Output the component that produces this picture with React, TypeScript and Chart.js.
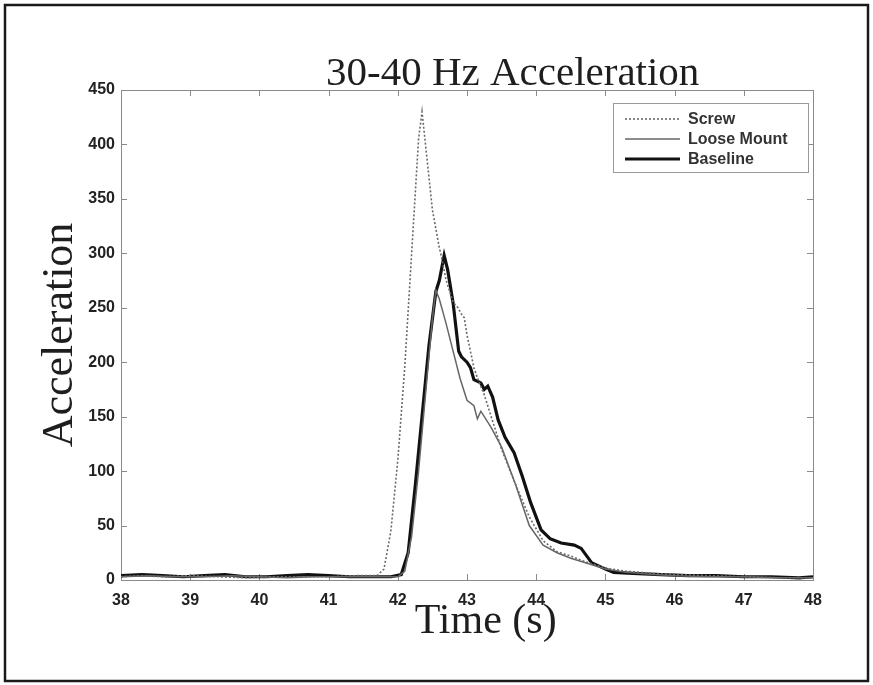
import React, { useEffect, useRef } from "react";
import { Chart, registerables } from "chart.js";

Chart.register(...registerables);

const chartTitle = "30-40 Hz Acceleration";
const xAxisTitle = "Time (s)";
const yAxisTitle = "Acceleration";
const seriesNames = ["Screw", "Loose Mount", "Baseline"];

const xMin = 38;
const xMax = 48;
const xStep = 1;
const yMin = 0;
const yMax = 450;
const yStep = 50;

const screwTime = [38, 38.3, 38.6, 39, 39.4, 39.8, 40.2, 40.6, 41, 41.4, 41.7, 41.8, 41.9, 42.0, 42.1, 42.2, 42.3, 42.35, 42.4, 42.5, 42.6, 42.62, 42.7, 42.8, 42.87, 42.93, 42.96, 43.0, 43.05, 43.1, 43.16, 43.25, 43.35, 43.5, 43.7, 43.9, 44.1, 44.3, 44.5, 44.7, 45, 45.3, 45.7, 46, 46.5, 47, 47.5, 48];
const screwAcc = [3, 4, 3, 4, 3, 2, 3, 3, 3, 4, 4, 10, 45, 110, 195, 300, 405, 430, 400, 340, 305, 300, 275, 255, 250, 243, 241, 225, 210, 195, 184, 170, 150, 120, 88, 58, 36, 26, 22, 17, 11, 8, 6, 5, 4, 3, 2, 2];

const looseTime = [38, 38.4, 38.8, 39.2, 39.6, 40, 40.4, 40.8, 41.2, 41.6, 42.0, 42.1, 42.2, 42.3, 42.4, 42.5, 42.55, 42.6, 42.7, 42.8, 42.9, 43.0, 43.1, 43.15, 43.2, 43.3, 43.35, 43.5, 43.7, 43.9, 44.1, 44.3, 44.5, 44.7, 45, 45.3, 45.7, 46, 46.5, 47, 47.5, 48];
const looseAcc = [3, 4, 3, 3, 4, 3, 2, 3, 3, 3, 3, 8, 40, 100, 170, 240, 266, 258, 235, 210, 185, 165, 160, 148, 155, 145, 140, 122, 88, 50, 32, 25, 20, 16, 10, 7, 5, 4, 3, 3, 2, 2];

const baseTime = [38, 38.3, 38.6, 38.9, 39.2, 39.5, 39.8, 40.1, 40.4, 40.7, 41, 41.3, 41.6, 41.9, 42.05, 42.15, 42.25, 42.35, 42.45, 42.55, 42.6, 42.67, 42.72, 42.8, 42.88, 42.92, 43.0, 43.05, 43.1, 43.2, 43.25, 43.3, 43.37, 43.45, 43.55, 43.68, 43.8, 43.92, 44.07, 44.2, 44.36, 44.55, 44.65, 44.8, 45, 45.12, 45.4, 45.8, 46.2, 46.6, 47, 47.4, 47.8, 48];
const baseAcc = [4, 5, 4, 3, 4, 5, 3, 3, 4, 5, 4, 3, 3, 3, 5, 25, 85, 150, 215, 265, 275, 298, 285, 254, 210, 205, 200, 195, 184, 181, 175, 178, 168, 147, 131, 117, 95, 71, 46, 38, 34, 32, 29, 16, 10, 7, 6, 5, 4, 4, 3, 3, 2, 3];

const toPoints = (t: number[], v: number[]) => t.map((x, i) => ({ x, y: v[i] }));

const decorPlugin = {
  id: "decor",
  beforeDraw(chart: any) {
    const ctx = chart.ctx;
    ctx.save();
    ctx.fillStyle = "#ffffff";
    ctx.fillRect(0, 0, chart.width, chart.height);
    ctx.restore();
  },
  beforeDatasetsDraw(chart: any) {
    const ctx = chart.ctx;
    const a = chart.chartArea;
    const xs = chart.scales.x;
    const ys = chart.scales.y;
    ctx.save();
    ctx.strokeStyle = "#8a8a8a";
    ctx.lineWidth = 1;
    ctx.strokeRect(a.left + 0.5, a.top + 0.5, a.right - a.left, a.bottom - a.top);
    const tl = 6;
    ctx.beginPath();
    xs.ticks.forEach((t: any) => {
      const px = Math.round(xs.getPixelForValue(t.value)) + 0.5;
      ctx.moveTo(px, a.bottom);
      ctx.lineTo(px, a.bottom - tl);
      ctx.moveTo(px, a.top);
      ctx.lineTo(px, a.top + tl);
    });
    ys.ticks.forEach((t: any) => {
      const py = Math.round(ys.getPixelForValue(t.value)) + 0.5;
      ctx.moveTo(a.left, py);
      ctx.lineTo(a.left + tl, py);
      ctx.moveTo(a.right, py);
      ctx.lineTo(a.right - tl, py);
    });
    ctx.stroke();
    ctx.restore();
  },
  afterDraw(chart: any) {
    const ctx = chart.ctx;
    const a = chart.chartArea;
    ctx.save();
    // outer frame
    ctx.strokeStyle = "#1a1a1a";
    ctx.lineWidth = 2.5;
    ctx.strokeRect(5, 5, chart.width - 10, chart.height - 9);

    // title
    ctx.fillStyle = "#1e1e1e";
    ctx.font = "41px 'Liberation Serif', serif";
    ctx.textAlign = "center";
    ctx.textBaseline = "alphabetic";
    ctx.fillText(chartTitle, a.left + (a.right - a.left) * 0.566, a.top - 5);

    // x axis title
    ctx.font = "42px 'Liberation Serif', serif";
    ctx.fillText(xAxisTitle, a.left + (a.right - a.left) * 0.527, a.bottom + 53);

    // legend
    const bw = 195;
    const bh = 69;
    const bx = a.right - bw - 5;
    const by = a.top + 13;
    ctx.fillStyle = "#ffffff";
    ctx.fillRect(bx, by, bw, bh);
    ctx.strokeStyle = "#9a9a9a";
    ctx.lineWidth = 1;
    ctx.strokeRect(bx + 0.5, by + 0.5, bw, bh);
    ctx.font = "bold 16px 'Liberation Sans', Arial, sans-serif";
    ctx.textAlign = "left";
    ctx.textBaseline = "middle";
    chart.data.datasets.forEach((ds: any, i: number) => {
      const y = by + 16 + i * 20;
      ctx.save();
      ctx.strokeStyle = ds.borderColor;
      ctx.lineWidth = ds.borderWidth;
      ctx.setLineDash(ds.borderDash || []);
      ctx.beginPath();
      ctx.moveTo(bx + 12, y);
      ctx.lineTo(bx + 67, y);
      ctx.stroke();
      ctx.restore();
      ctx.fillStyle = "#333333";
      ctx.fillText(ds.label, bx + 75, y + 1);
    });
    ctx.restore();
  },
};

export default function App() {
  const ref = useRef<HTMLCanvasElement | null>(null);

  useEffect(() => {
    document.body.style.margin = "0";
    const canvas = ref.current;
    if (!canvas) return;
    const tickFont = { family: "'Liberation Sans', Arial, sans-serif", size: 16, weight: "bold" as const };
    const chart = new Chart(canvas, {
      type: "line",
      data: {
        datasets: [
          {
            label: seriesNames[0],
            data: toPoints(screwTime, screwAcc),
            borderColor: "#6a6a6a",
            borderWidth: 1.6,
            borderDash: [2, 2],
            pointRadius: 0,
            tension: 0,
          },
          {
            label: seriesNames[1],
            data: toPoints(looseTime, looseAcc),
            borderColor: "#666666",
            borderWidth: 1.5,
            pointRadius: 0,
            tension: 0,
          },
          {
            label: seriesNames[2],
            data: toPoints(baseTime, baseAcc),
            borderColor: "#111111",
            borderWidth: 3.2,
            pointRadius: 0,
            tension: 0,
          },
        ],
      },
      options: {
        animation: false,
        responsive: false,
        devicePixelRatio: 1,
        layout: { padding: { top: 90, right: 60, bottom: 0, left: 0 } },
        plugins: {
          legend: { display: false },
          title: { display: false },
          tooltip: { enabled: false },
        },
        scales: {
          x: {
            type: "linear",
            min: xMin,
            max: xMax,
            ticks: {
              stepSize: xStep,
              color: "#222222",
              font: tickFont,
              padding: 11,
              maxRotation: 0,
              autoSkip: false,
            },
            grid: { display: false, drawTicks: false },
            border: { display: false },
            afterFit: (s: any) => {
              s.height = 105;
            },
          },
          y: {
            type: "linear",
            min: yMin,
            max: yMax,
            ticks: {
              stepSize: yStep,
              color: "#222222",
              font: tickFont,
              padding: 6,
            },
            grid: { display: false, drawTicks: false },
            border: { display: false },
            title: {
              display: true,
              text: yAxisTitle,
              color: "#1e1e1e",
              font: { family: "'Liberation Serif', serif", size: 44, weight: "normal" },
              padding: { top: 34, bottom: 0 },
            },
            afterFit: (s: any) => {
              s.width = 121;
            },
          },
        },
      },
      plugins: [decorPlugin],
    });
    return () => chart.destroy();
  }, []);

  return (
    <div style={{ width: 873, height: 685 }}>
      <canvas ref={ref} width={873} height={685} style={{ display: "block", width: 873, height: 685 }} />
    </div>
  );
}
